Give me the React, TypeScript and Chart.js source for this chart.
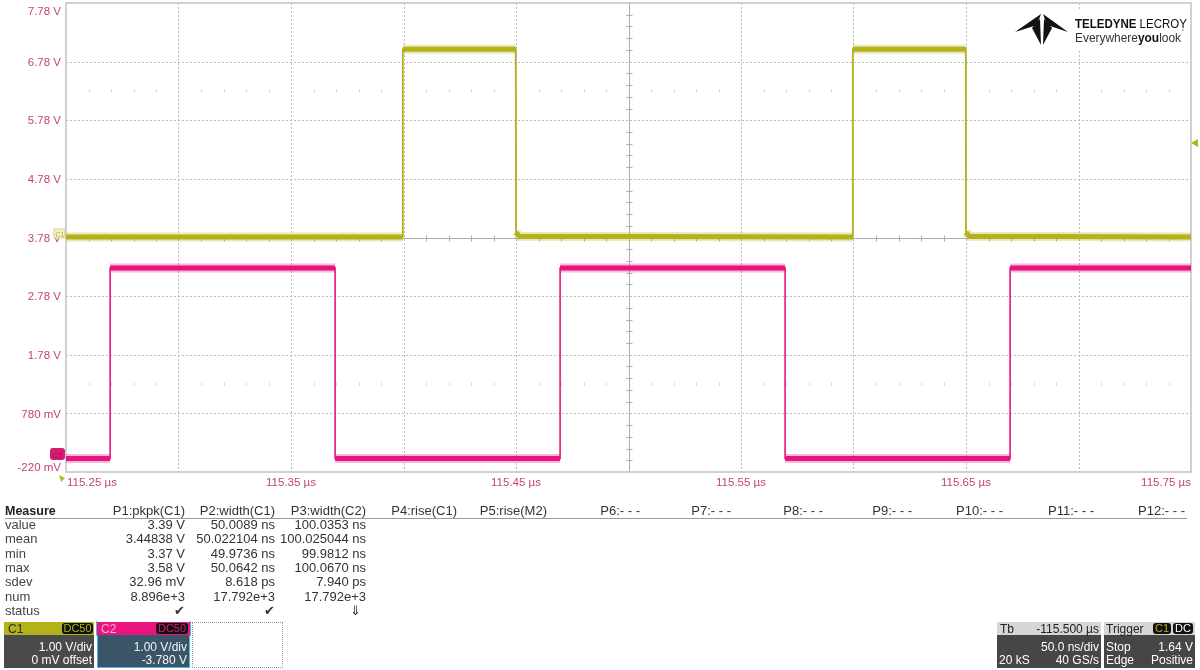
import React, { useEffect, useRef } from "react";
import { Chart, registerables } from "chart.js";

Chart.register(...registerables);

// ---------- data ----------
const gridTimes = [115.25, 115.3, 115.35, 115.4, 115.45, 115.5, 115.55, 115.6, 115.65, 115.7, 115.75];
const gridVolts = [-0.22, 0.78, 1.78, 2.78, 3.78, 4.78, 5.78, 6.78, 7.78];
const timeLabelValues = [115.25, 115.35, 115.45, 115.55, 115.65, 115.75];
const timeLabels = ["115.25 µs", "115.35 µs", "115.45 µs", "115.55 µs", "115.65 µs", "115.75 µs"];
const voltLabels = ["-220 mV", "780 mV", "1.78 V", "2.78 V", "3.78 V", "4.78 V", "5.78 V", "6.78 V", "7.78 V"];

// C1 (yellow) trace: times in µs, levels in displayed volts
const c1Times = [115.25, 115.3997, 115.3997, 115.4499, 115.45, 115.4515, 115.5997, 115.5997, 115.6499, 115.65, 115.6515, 115.75];
const c1Volts = [3.79, 3.79, 6.99, 6.99, 3.87, 3.8, 3.79, 6.99, 6.99, 3.87, 3.8, 3.79];

// C2 (magenta) trace
const c2Times = [115.25, 115.2696, 115.2696, 115.3696, 115.3696, 115.4696, 115.4696, 115.5696, 115.5696, 115.6696, 115.6696, 115.75];
const c2Volts = [0.01, 0.01, 3.26, 3.26, 0.01, 0.01, 3.26, 3.26, 0.01, 0.01, 3.26, 3.26];

const measureRows = ["value", "mean", "min", "max", "sdev", "num", "status"];
const paramHeaders = ["P1:pkpk(C1)", "P2:width(C1)", "P3:width(C2)", "P4:rise(C1)", "P5:rise(M2)", "P6:- - -", "P7:- - -", "P8:- - -", "P9:- - -", "P10:- - -", "P11:- - -", "P12:- - -"];
const paramRight = [185, 275, 366, 457, 547, 640, 731, 823, 912, 1003, 1094, 1185];
const p1Values = ["3.39 V", "3.44838 V", "3.37 V", "3.58 V", "32.96 mV", "8.896e+3", "✔"];
const p2Values = ["50.0089 ns", "50.022104 ns", "49.9736 ns", "50.0642 ns", "8.618 ps", "17.792e+3", "✔"];
const p3Values = ["100.0353 ns", "100.025044 ns", "99.9812 ns", "100.0670 ns", "7.940 ps", "17.792e+3", "⇓"];

const C1_COLOR = "#b3b21c";
const C2_COLOR = "#e8157f";
const LABEL_COLOR = "#c4437e";
const FONT = '"Liberation Sans", Arial, sans-serif';

function step(t: number[], v: number[]) {
  return t.map((x, i) => ({ x, y: v[i] }));
}
function band(t: number[], v: number[]) {
  const out: any[] = [];
  for (let i = 0; i < t.length; i++) {
    if (i > 0 && t[i] - t[i - 1] < 0.0005) out.push({ x: t[i], y: null });
    out.push({ x: t[i], y: v[i] });
  }
  return out;
}

const scopeGrid = {
  id: "scopeGrid",
  beforeDatasetsDraw(chart: any) {
    const { ctx, chartArea: a, scales } = chart;
    const xs = scales.x, ys = scales.y;
    ctx.save();
    ctx.strokeStyle = "#bcbcbc";
    ctx.lineWidth = 1;
    ctx.setLineDash([2, 2]);
    gridTimes.forEach((t, i) => {
      if (i === 0 || i === gridTimes.length - 1 || i === 5) return;
      const px = Math.round(xs.getPixelForValue(t)) + 0.5;
      ctx.beginPath(); ctx.moveTo(px, a.top); ctx.lineTo(px, a.bottom); ctx.stroke();
    });
    gridVolts.forEach((v, i) => {
      if (i === 0 || i === gridVolts.length - 1 || i === 4) return;
      const py = Math.round(ys.getPixelForValue(v)) + 0.5;
      ctx.beginPath(); ctx.moveTo(a.left, py); ctx.lineTo(a.right, py); ctx.stroke();
    });
    ctx.setLineDash([]);
    ctx.strokeStyle = "#acacac";
    const cx = Math.round(xs.getPixelForValue(gridTimes[5])) + 0.5;
    const cy = Math.round(ys.getPixelForValue(gridVolts[4])) + 0.5;
    ctx.beginPath(); ctx.moveTo(cx, a.top); ctx.lineTo(cx, a.bottom); ctx.stroke();
    ctx.beginPath(); ctx.moveTo(a.left, cy); ctx.lineTo(a.right, cy); ctx.stroke();
    const divX = (a.right - a.left) / 10;
    const divY = (a.bottom - a.top) / 8;
    for (let k = 1; k < 50; k++) {
      if (k % 5 === 0) continue;
      const px = Math.round(a.left + (divX * k) / 5) + 0.5;
      ctx.beginPath(); ctx.moveTo(px, cy - 3); ctx.lineTo(px, cy + 3); ctx.stroke();
    }
    for (let k = 1; k < 40; k++) {
      if (k % 5 === 0) continue;
      const py = Math.round(a.top + (divY * k) / 5) + 0.5;
      ctx.beginPath(); ctx.moveTo(cx - 3, py); ctx.lineTo(cx + 3, py); ctx.stroke();
    }
    ctx.strokeStyle = "#d6d6d6";
    [a.top + divY * 1.5, a.bottom - divY * 1.5].forEach((yy) => {
      for (let k = 1; k < 50; k++) {
        if (k % 5 === 0) continue;
        const px = Math.round(a.left + (divX * k) / 5) + 0.5;
        ctx.beginPath(); ctx.moveTo(px, yy - 1.5); ctx.lineTo(px, yy + 1.5); ctx.stroke();
      }
    });
    ctx.strokeStyle = "#c2c2c2";
    ctx.lineWidth = 1.5;
    ctx.strokeRect(a.left, a.top, a.right - a.left, a.bottom - a.top);
    ctx.restore();
  },
  afterDraw(chart: any) {
    const { ctx, chartArea: a, scales } = chart;
    ctx.save();
    ctx.fillStyle = LABEL_COLOR;
    ctx.font = `11.5px ${FONT}`;
    ctx.textBaseline = "middle";
    ctx.textAlign = "right";
    gridVolts.forEach((v, i) => {
      let py = scales.y.getPixelForValue(v) + 1;
      if (py < a.top + 9) py = a.top + 9;
      if (py > a.bottom - 4) py = a.bottom - 4;
      ctx.fillText(voltLabels[i], a.left - 5, py);
    });
    timeLabelValues.forEach((t, i) => {
      const px = scales.x.getPixelForValue(t);
      ctx.textAlign = i === 0 ? "left" : i === timeLabelValues.length - 1 ? "right" : "center";
      ctx.fillText(timeLabels[i], px + (i === 0 ? 1 : 0), a.bottom + 11);
    });
    ctx.restore();
  },
};

function T(props: { x: number; y: number; text: string; align?: "left" | "right" | "center"; size?: number; color?: string; bold?: boolean }) {
  const { x, y, text, align = "left", size = 13, color = "#333", bold = false } = props;
  const style: any = {
    position: "absolute",
    top: y - 9,
    height: 18,
    lineHeight: "18px",
    fontSize: size,
    color,
    fontWeight: bold ? "bold" : "normal",
    whiteSpace: "nowrap",
  };
  if (align === "left") style.left = x;
  else if (align === "right") style.right = 1200 - x;
  else { style.left = x - 100; style.width = 200; style.textAlign = "center"; }
  return <div style={style}>{text}</div>;
}

function Badge(props: { x: number; y: number; w: number; text: string; color: string }) {
  return (
    <div style={{ position: "absolute", left: props.x, top: props.y, width: props.w, height: 11, background: "#111", borderRadius: 3, color: props.color, fontSize: 11, lineHeight: "11px", textAlign: "center" }}>{props.text}</div>
  );
}

export default function App() {
  const ref = useRef<HTMLCanvasElement>(null);
  useEffect(() => {
    if (!ref.current) return;
    const mk = (data: any[], color: string, width: number) => ({
      data,
      borderColor: color,
      borderWidth: width,
      pointRadius: 0,
      tension: 0,
      fill: false,
      spanGaps: false,
    });
    const chart = new Chart(ref.current, {
      type: "line",
      data: {
        datasets: [
          mk(band(c2Times, c2Volts), "rgba(232,21,127,0.3)", 9),
          mk(band(c2Times, c2Volts), C2_COLOR, 5),
          mk(step(c2Times, c2Volts), C2_COLOR, 1.6),
          mk(band(c1Times, c1Volts), "rgba(179,178,28,0.3)", 9),
          mk(band(c1Times, c1Volts), C1_COLOR, 5),
          mk(step(c1Times, c1Volts), C1_COLOR, 1.8),
        ] as any,
      },
      options: {
        animation: false,
        responsive: false,
        maintainAspectRatio: false,
        layout: { padding: { left: 66, right: 9, top: 3, bottom: 28 } },
        plugins: { legend: { display: false }, tooltip: { enabled: false } },
        scales: {
          x: { type: "linear", min: 115.25, max: 115.75, display: false },
          y: { type: "linear", min: -0.22, max: 7.78, display: false },
        },
      },
      plugins: [scopeGrid],
    });
    return () => chart.destroy();
  }, []);

  const rowY = (i: number) => 525 + i * 14.3;
  const cols = [p1Values, p2Values, p3Values];

  return (
    <div style={{ position: "fixed", left: 0, top: 0, width: 1200, height: 670, background: "#fff", overflow: "hidden", fontFamily: FONT }}>
      <canvas ref={ref} width={1200} height={500} style={{ position: "absolute", left: 0, top: 0, width: 1200, height: 500 }} />

      <svg width={1200} height={670} style={{ position: "absolute", left: 0, top: 0, pointerEvents: "none" }}>
        <rect x={1008} y={9} width={181} height={40} fill="#fff" />
        <g fill="#111">
          <polygon points="1015,32 1041,14 1037,25" />
          <polygon points="1068,32 1043,14 1047,25" />
          <polygon points="1032,28 1040,19 1041,45" />
          <polygon points="1052,28 1044,19 1043,45" />
        </g>
        <text x={1075} y={28} fontFamily={FONT} fontSize={13} fill="#111" textLength={112} lengthAdjust="spacingAndGlyphs">
          <tspan fontWeight="bold">TELEDYNE</tspan>
          <tspan> LECROY</tspan>
        </text>
        <text x={1075} y={42} fontFamily={FONT} fontSize={12} fill="#333" textLength={106} lengthAdjust="spacingAndGlyphs">
          <tspan>Everywhere</tspan>
          <tspan fontWeight="bold" fill="#111">you</tspan>
          <tspan>look</tspan>
        </text>
        <text x={1182} y={34} fontFamily={FONT} fontSize={6} fill="#333">˚</text>

        <rect x={54} y={229} width={11} height={9} fill="#f2f1cf" stroke="#d6d58a" strokeWidth={1} />
        <text x={55.5} y={236.5} fontFamily={FONT} fontSize={7} fill="#b3b21c">C1</text>
        <rect x={50} y={448} width={15} height={12} rx={3} fill="#d81b72" />
        <text x={52} y={457.5} fontFamily={FONT} fontSize={8} fill="#a3124f">C2</text>
        <polygon points="1191,143 1198,139 1198,147" fill="#a8b81c" />
        <polygon points="59,475 65,478 61,482" fill="#a8c21c" />
      </svg>

      {/* measurement table */}
      <T x={5} y={511} text="Measure" bold size={12.5} color="#222" />
      {paramHeaders.map((h, i) => (
        <T key={h} x={paramRight[i]} y={511} text={h} align="right" color="#333" />
      ))}
      <div style={{ position: "absolute", left: 5, top: 518, width: 1182, height: 1, background: "#999" }} />
      {measureRows.map((r, i) => (
        <T key={r} x={5} y={rowY(i)} text={r} color="#444" />
      ))}
      {cols.map((vals, c) =>
        vals.map((v, i) => (
          <T key={c + "-" + i} x={paramRight[c] - (i === 6 && c === 2 ? 5 : 0)} y={rowY(i)} text={v} align="right" color="#333" />
        ))
      )}

      {/* C1 box */}
      <div style={{ position: "absolute", left: 4, top: 622, width: 90, height: 13, background: C1_COLOR }} />
      <div style={{ position: "absolute", left: 4, top: 635, width: 90, height: 33, background: "#4a4a4a" }} />
      <T x={8} y={629} text="C1" size={12} color="#2a2a2a" />
      <Badge x={62} y={623} w={31} text="DC50" color={C1_COLOR} />
      <T x={92} y={647} text="1.00 V/div" align="right" size={12} color="#fff" />
      <T x={92} y={660} text="0 mV offset" align="right" size={12} color="#fff" />

      {/* C2 box */}
      <div style={{ position: "absolute", left: 97, top: 622, width: 93, height: 13, background: C2_COLOR }} />
      <div style={{ position: "absolute", left: 97, top: 635, width: 93, height: 33, background: "#3a5468", boxSizing: "border-box", border: "1.5px solid #55b2ea", borderTop: "none" }} />
      <div style={{ position: "absolute", left: 96, top: 621, width: 95, height: 15, boxSizing: "border-box", borderLeft: "1.5px solid #55b2ea", borderRight: "1.5px solid #55b2ea" }} />
      <T x={101} y={629} text="C2" size={12} color="#f7b0d2" />
      <Badge x={156} y={623} w={32} text="DC50" color={C2_COLOR} />
      <T x={187} y={647} text="1.00 V/div" align="right" size={12} color="#f4f4f4" />
      <T x={187} y={660} text="-3.780 V" align="right" size={12} color="#f4f4f4" />

      <div style={{ position: "absolute", left: 192, top: 622, width: 91, height: 46, boxSizing: "border-box", border: "1.5px dotted #9a9a9a" }} />

      {/* timebase box */}
      <div style={{ position: "absolute", left: 997, top: 622, width: 104, height: 13, background: "#d6d6d6" }} />
      <div style={{ position: "absolute", left: 997, top: 635, width: 104, height: 33, background: "#464646" }} />
      <T x={1000} y={629} text="Tb" size={12} color="#222" />
      <T x={1099} y={629} text="-115.500 µs" align="right" size={12} color="#222" />
      <T x={1099} y={647} text="50.0 ns/div" align="right" size={12} color="#fff" />
      <T x={999} y={660} text="20 kS" size={12} color="#fff" />
      <T x={1099} y={660} text="40 GS/s" align="right" size={12} color="#fff" />

      {/* trigger box */}
      <div style={{ position: "absolute", left: 1104, top: 622, width: 91, height: 13, background: "#d6d6d6" }} />
      <div style={{ position: "absolute", left: 1104, top: 635, width: 91, height: 33, background: "#464646" }} />
      <T x={1106} y={629} text="Trigger" size={12} color="#222" />
      <Badge x={1153} y={623} w={18} text="C1" color={C1_COLOR} />
      <Badge x={1173} y={623} w={20} text="DC" color="#fff" />
      <T x={1106} y={647} text="Stop" size={12} color="#fff" />
      <T x={1193} y={647} text="1.64 V" align="right" size={12} color="#fff" />
      <T x={1106} y={660} text="Edge" size={12} color="#fff" />
      <T x={1193} y={660} text="Positive" align="right" size={12} color="#fff" />
    </div>
  );
}
